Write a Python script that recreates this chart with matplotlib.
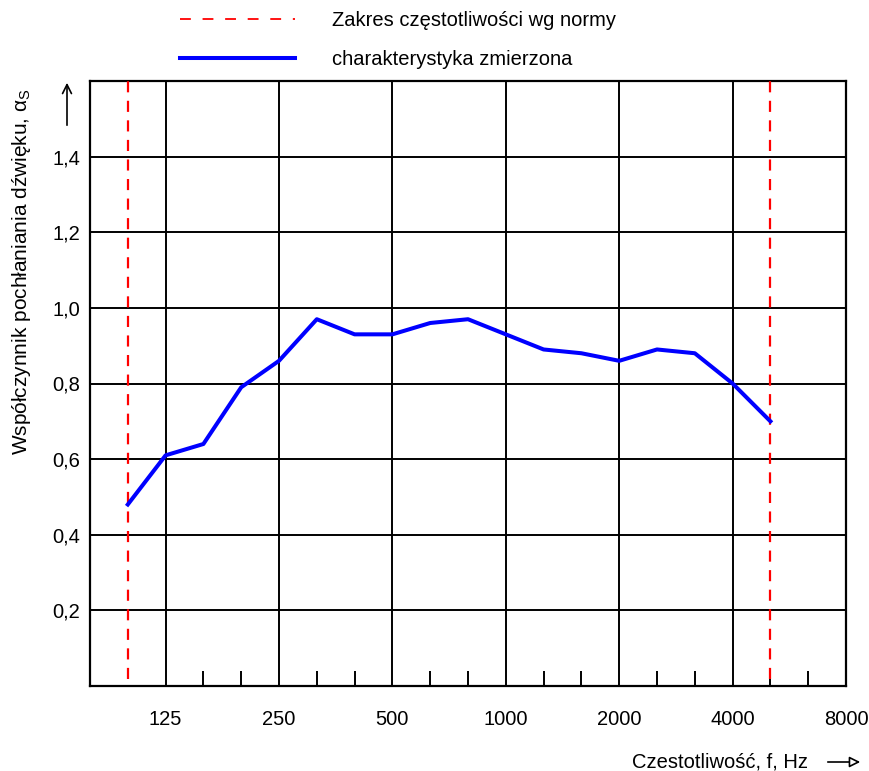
import numpy as np
import matplotlib
matplotlib.use("Agg")
import matplotlib.pyplot as plt
from matplotlib.ticker import FixedLocator, NullFormatter
from matplotlib.lines import Line2D

# third-octave bands, Hz
bands = [100, 125, 160, 200, 250, 315, 400, 500, 630, 800, 1000,
         1250, 1600, 2000, 2500, 3150, 4000, 5000]
alpha_s = [0.48, 0.61, 0.64, 0.79, 0.86, 0.97, 0.93, 0.93, 0.96, 0.97, 0.93,
           0.89, 0.88, 0.86, 0.89, 0.88, 0.80, 0.70]
octave_labels = ["125", "250", "500", "1000", "2000", "4000", "8000"]
minor_bands = [160, 200, 315, 400, 630, 800, 1250, 1600, 2500, 3150, 5000, 6300]
norm_range = [100, 5000]
y_ticks = [0.2, 0.4, 0.6, 0.8, 1.0, 1.2, 1.4]

all_bands = [80, 100, 125, 160, 200, 250, 315, 400, 500, 630, 800, 1000,
             1250, 1600, 2000, 2500, 3150, 4000, 5000, 6300, 8000]
pos = {f: i - 1 for i, f in enumerate(all_bands)}   # 80 Hz -> -1

plt.rcParams['font.family'] = ['Liberation Sans', 'DejaVu Sans']
plt.rcParams['mathtext.fontset'] = 'custom'
plt.rcParams['mathtext.rm'] = 'Liberation Sans'
plt.rcParams['mathtext.it'] = 'Liberation Sans'
fs = 14.5

fig = plt.figure(figsize=(8.69, 7.71), dpi=100)
ax = fig.add_axes([90/869, 1 - 686/771, (846-90)/869, (686-81)/771])

xs = [pos[f] for f in bands]
dash = (0, (5.0, 3.8))
for f in norm_range:
    ax.axvline(pos[f], ymin=0.012, ymax=1, color='#ff0000', lw=1.6, ls=dash, zorder=3)
ax.plot(xs, alpha_s, color='#0000ff', lw=2.9, zorder=4)

ax.set_xlim(pos[80], pos[8000])
ax.set_ylim(0, 1.6)

oct_pos = [pos[int(v)] for v in octave_labels]
ax.xaxis.set_major_locator(FixedLocator(oct_pos))
ax.set_xticklabels(octave_labels)
ax.xaxis.set_minor_locator(FixedLocator([pos[f] for f in minor_bands]))
ax.xaxis.set_minor_formatter(NullFormatter())
ax.tick_params(axis='x', which='major', length=0, pad=17, labelsize=fs)
ax.tick_params(axis='x', which='minor', direction='in', length=10.5, width=1.4, color='black')

ax.set_yticks(y_ticks)
ax.set_yticklabels([f"{v:.1f}".replace('.', ',') for v in y_ticks])
ax.tick_params(axis='y', length=0, pad=7, labelsize=fs)

ax.grid(True, which='major', color='black', lw=1.4)
for s in ax.spines.values():
    s.set_linewidth(1.6)

# legend
handles = [Line2D([], [], color='#ff0000', lw=1.3, ls=(0, (6.0, 6.5))),
           Line2D([], [], color='#0000ff', lw=2.9)]
fig.legend(handles, ["Zakres częstotliwości wg normy", "charakterystyka zmierzona"],
           loc='upper left', bbox_to_anchor=(180/869, 1 - 11/771), frameon=False,
           fontsize=fs, handlelength=5.7, handletextpad=1.85, labelspacing=1.0,
           borderpad=0, borderaxespad=0)

fig.text(22/869, 1 - 272/771, 'Współczynnik pochłaniania dźwięku, $\\alpha_\\mathrm{S}$',
         rotation=90, ha='center', va='center', fontsize=15)
ax.annotate('', xy=(67/869, 1 - 80/771), xytext=(67/869, 1 - 128/771),
            xycoords='figure fraction', textcoords='figure fraction',
            arrowprops=dict(arrowstyle='->', lw=1.2, color='black', mutation_scale=16))

fig.text(808/869, 1 - 762/771, 'Czestotliwość, f, Hz', ha='right', va='center', fontsize=fs)
ax.annotate('', xy=(863/869, 1 - 762/771), xytext=(825/869, 1 - 762/771),
            xycoords='figure fraction', textcoords='figure fraction',
            arrowprops=dict(arrowstyle='-|>', lw=1.2, color='black', fc='white',
                            mutation_scale=16))

fig.savefig('out.png', dpi=100)
